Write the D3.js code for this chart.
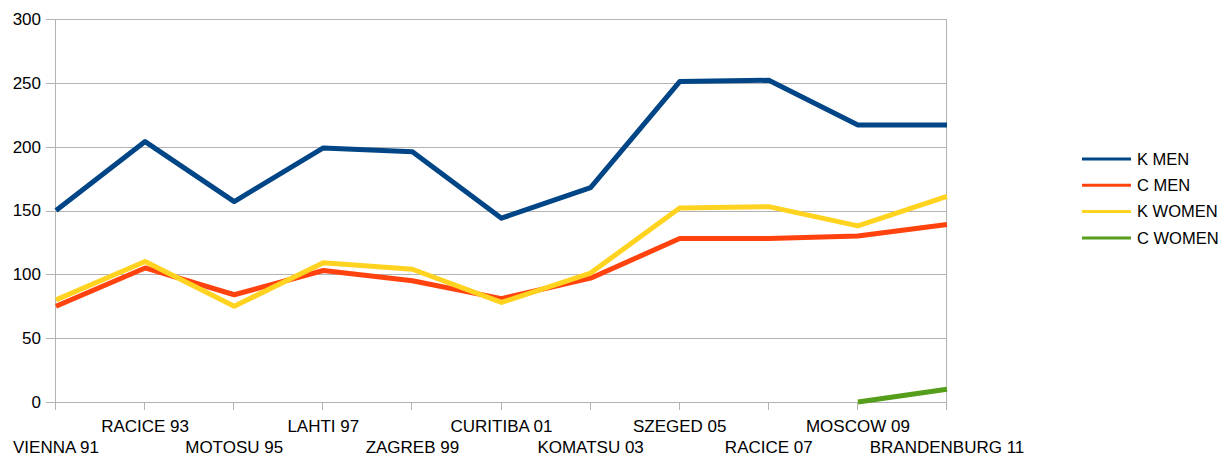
<!DOCTYPE html>
<html>
<head>
<meta charset="utf-8">
<script src="https://cdn.jsdelivr.net/npm/d3@7"></script>
<style>
  body { margin: 0; background: #fff; }
  text { font-family: "Liberation Sans", Arial, sans-serif; font-size: 17px; fill: #000; }
</style>
</head>
<body>
<div id="chart"></div>
<script>
// Data
var categories = ['VIENNA 91', 'RACICE 93', 'MOTOSU 95', 'LAHTI 97', 'ZAGREB 99', 'CURITIBA 01',
                  'KOMATSU 03', 'SZEGED 05', 'RACICE 07', 'MOSCOW 09', 'BRANDENBURG 11'];
var kMen   = [150, 204, 157, 199, 196, 144, 168, 251, 252, 217, 217];
var cMen   = [75, 105, 84, 103, 95, 81, 97, 128, 128, 130, 139];
var kWomen = [80, 110, 75, 109, 104, 78, 101, 152, 153, 138, 161];
var cWomen = [null, null, null, null, null, null, null, null, null, 0, 10];
var yTicks = [0, 50, 100, 150, 200, 250, 300];

var series = [
  { name: 'K MEN',   values: kMen,   color: '#004586' },
  { name: 'C MEN',   values: cMen,   color: '#ff420e' },
  { name: 'K WOMEN', values: kWomen, color: '#ffd320' },
  { name: 'C WOMEN', values: cWomen, color: '#579d1c' }
];

var width = 1230, height = 459;
var margin = { left: 56, right: 283, top: 19, bottom: 57 };

var svg = d3.select('#chart').append('svg')
            .attr('width', width)
            .attr('height', height);

var x = d3.scalePoint()
          .domain(categories)
          .range([margin.left, width - margin.right])
          .padding(0);

var y = d3.scaleLinear()
          .domain([0, 300])
          .range([height - margin.bottom, margin.top]);

var grid = '#b3b3b3';

// horizontal grid lines + y ticks
svg.append('g').selectAll('line')
   .data(yTicks)
   .enter().append('line')
   .attr('x1', margin.left - 10)
   .attr('x2', width - margin.right)
   .attr('y1', function(d) { return Math.round(y(d)) + 0.5; })
   .attr('y2', function(d) { return Math.round(y(d)) + 0.5; })
   .attr('stroke', grid);

svg.append('g').selectAll('text')
   .data(yTicks)
   .enter().append('text')
   .attr('x', margin.left - 15)
   .attr('y', function(d) { return y(d); })
   .attr('dy', '0.35em')
   .attr('text-anchor', 'end')
   .text(function(d) { return d; });

// left axis + right border
[margin.left, width - margin.right].forEach(function(px) {
  svg.append('line')
     .attr('x1', Math.round(px) - 0.5).attr('x2', Math.round(px) - 0.5)
     .attr('y1', margin.top).attr('y2', height - margin.bottom)
     .attr('stroke', grid);
});

// x tick marks
svg.append('g').selectAll('line')
   .data(categories)
   .enter().append('line')
   .attr('x1', function(d) { return Math.round(x(d)) - 0.5; })
   .attr('x2', function(d) { return Math.round(x(d)) - 0.5; })
   .attr('y1', height - margin.bottom)
   .attr('y2', height - margin.bottom + 8)
   .attr('stroke', grid);

// staggered category labels
svg.append('g').selectAll('text')
   .data(categories)
   .enter().append('text')
   .attr('x', function(d) { return x(d); })
   .attr('y', function(d, i) { return i % 2 === 0 ? 453 : 432; })
   .attr('text-anchor', 'middle')
   .text(function(d) { return d; });

// series lines
var line = d3.line()
             .defined(function(d) { return d != null; })
             .x(function(d, i) { return x(categories[i]); })
             .y(function(d) { return y(d); });

svg.append('g').selectAll('path')
   .data(series)
   .enter().append('path')
   .attr('d', function(s) { return line(s.values); })
   .attr('fill', 'none')
   .attr('stroke', function(s) { return s.color; })
   .attr('stroke-width', 5)
   .attr('stroke-linejoin', 'round');

// legend
var legend = svg.append('g').attr('transform', 'translate(1082,159)');
var item = legend.selectAll('g')
                 .data(series)
                 .enter().append('g')
                 .attr('transform', function(d, i) { return 'translate(0,' + (i * 26.3) + ')'; });
item.append('line')
    .attr('x1', 0).attr('x2', 49)
    .attr('y1', 0).attr('y2', 0)
    .attr('stroke', function(d) { return d.color; })
    .attr('stroke-width', 3);
item.append('text')
    .attr('x', 55)
    .attr('y', 0)
    .attr('dy', '0.35em')
    .style('font-size', '16.5px')
    .text(function(d) { return d.name; });
</script>
</body>
</html>
